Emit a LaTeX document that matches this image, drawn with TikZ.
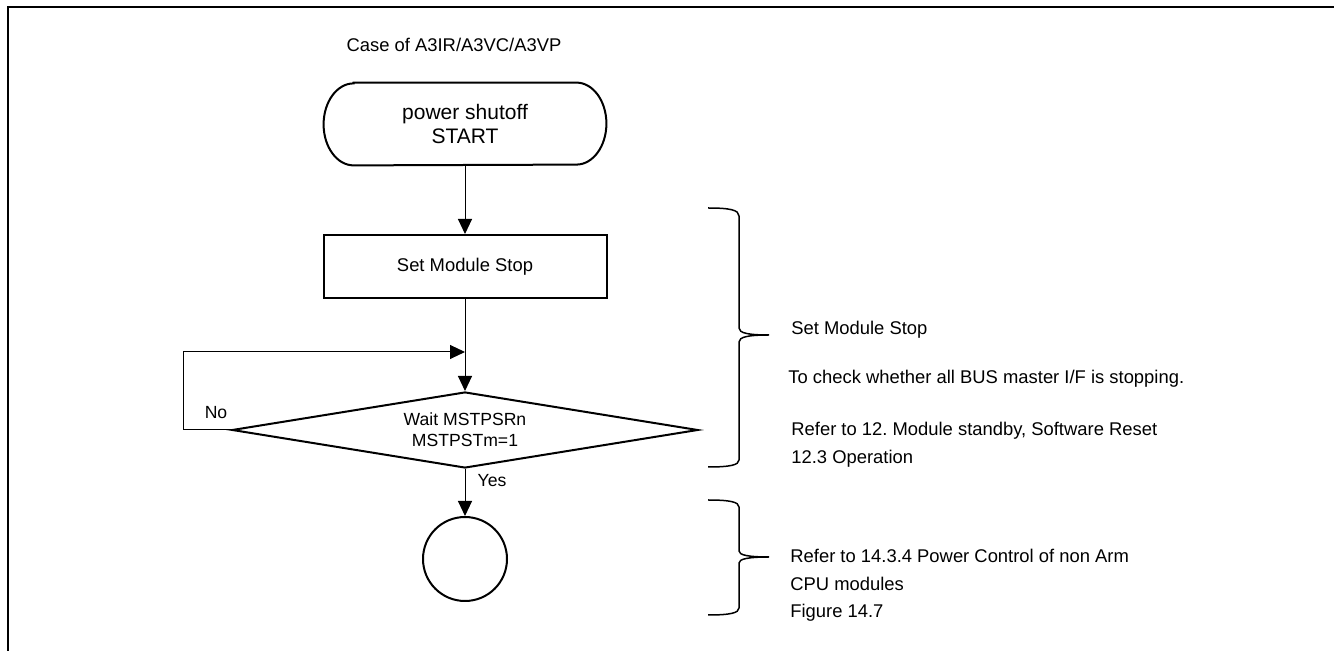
\documentclass[tikz,border=0pt]{standalone}
\usepackage{fontspec}
\setmainfont{Liberation Sans}
\usetikzlibrary{arrows.meta,shapes.geometric}
\frenchspacing
\begin{document}
\begin{tikzpicture}[x=0.5pt,y=-0.5pt,
  shapeline/.style={draw=black,line width=1pt},
  conn/.style={draw=black,line width=0.5pt,-{Triangle[length=7.5pt,width=7pt]}},
  txt/.style={font=\fontsize{9.2}{11}\selectfont,inner sep=0pt},
  bracestyle/.style={draw=black,line width=0.75pt},
  note/.style={txt,anchor=base west},
]
\useasboundingbox (0,0) rectangle (1334,651);
\fill[white] (0,0) rectangle (1334,651);
\draw[line width=1pt] (8,651) -- (8,7) -- (1334,7);

\node[txt,anchor=base] (title) at (454,52) {Case of A3IR/A3VC/A3VP};

\node[minimum width=141pt,minimum height=41pt,inner sep=0pt,align=center,
      font=\fontsize{10.5}{12}\selectfont] (start) at (465,124) {power shutoff\\START};
\draw[shapeline] ([xshift=15pt]start.north west) -- ([xshift=-15pt]start.north east)
  arc[start angle=90,end angle=-90,x radius=15pt,y radius=20.5pt]
  -- ([xshift=15pt]start.south west)
  arc[start angle=270,end angle=90,x radius=15pt,y radius=20.5pt] -- cycle;

\node[shapeline,txt,minimum width=141.5pt,minimum height=31.5pt] (setms) at (465,266.5) {Set Module Stop};

\node[shapeline,diamond,aspect=6.1,minimum width=233pt,minimum height=38pt,inner sep=0pt,
      align=center,font=\fontsize{8.8}{10.5}\selectfont] (wait) at (465,430) {Wait MSTPSRn\\MSTPSTm=1};

\node[shapeline,circle,minimum size=42pt,inner sep=0pt] (end) at (465,559) {};

\coordinate (merge) at (465,352);
\coordinate (loopc) at (183,352);

\draw[conn] (start.south) -- (setms.north);
\draw[conn] (setms.south) -- (wait.north);
\draw[conn] (wait.west) -| (loopc) -- (merge);
\draw[conn] (wait.south) -- (end.north);

\node[txt,font=\fontsize{8.8}{10.5}\selectfont] (no) at (216,413) {No};
\node[txt,font=\fontsize{8.8}{10.5}\selectfont] (yes) at (492,481) {Yes};

\draw[bracestyle] (708,208) .. controls (730,208) and (739,210) .. (739,216) -- (739,328)
  .. controls (739,333) and (748,335) .. (769,335)
  .. controls (748,335) and (739,337) .. (739,342) -- (739,460)
  .. controls (739,465) and (730,467) .. (708,467);
\draw[bracestyle] (708,500) .. controls (730,500) and (739,502) .. (739,507) -- (739,551)
  .. controls (739,555) and (748,557) .. (769,557)
  .. controls (748,557) and (739,559) .. (739,563) -- (739,608)
  .. controls (739,613) and (730,615) .. (708,615);

\node[note] (n1) at (791,335) {Set Module Stop};
\node[note] (n2) at (788,384) {To check whether all BUS master I/F is stopping.};
\node[note] (n3) at (791,436) {Refer to 12. Module standby, Software Reset};
\node[note] (n4) at (791,464) {12.3 Operation};
\node[note] (n5) at (790,563) {Refer to 14.3.4 Power Control of non Arm};
\node[note] (n6) at (790,591) {CPU modules};
\node[note] (n7) at (790,618) {Figure 14.7};
\end{tikzpicture}
\end{document}
